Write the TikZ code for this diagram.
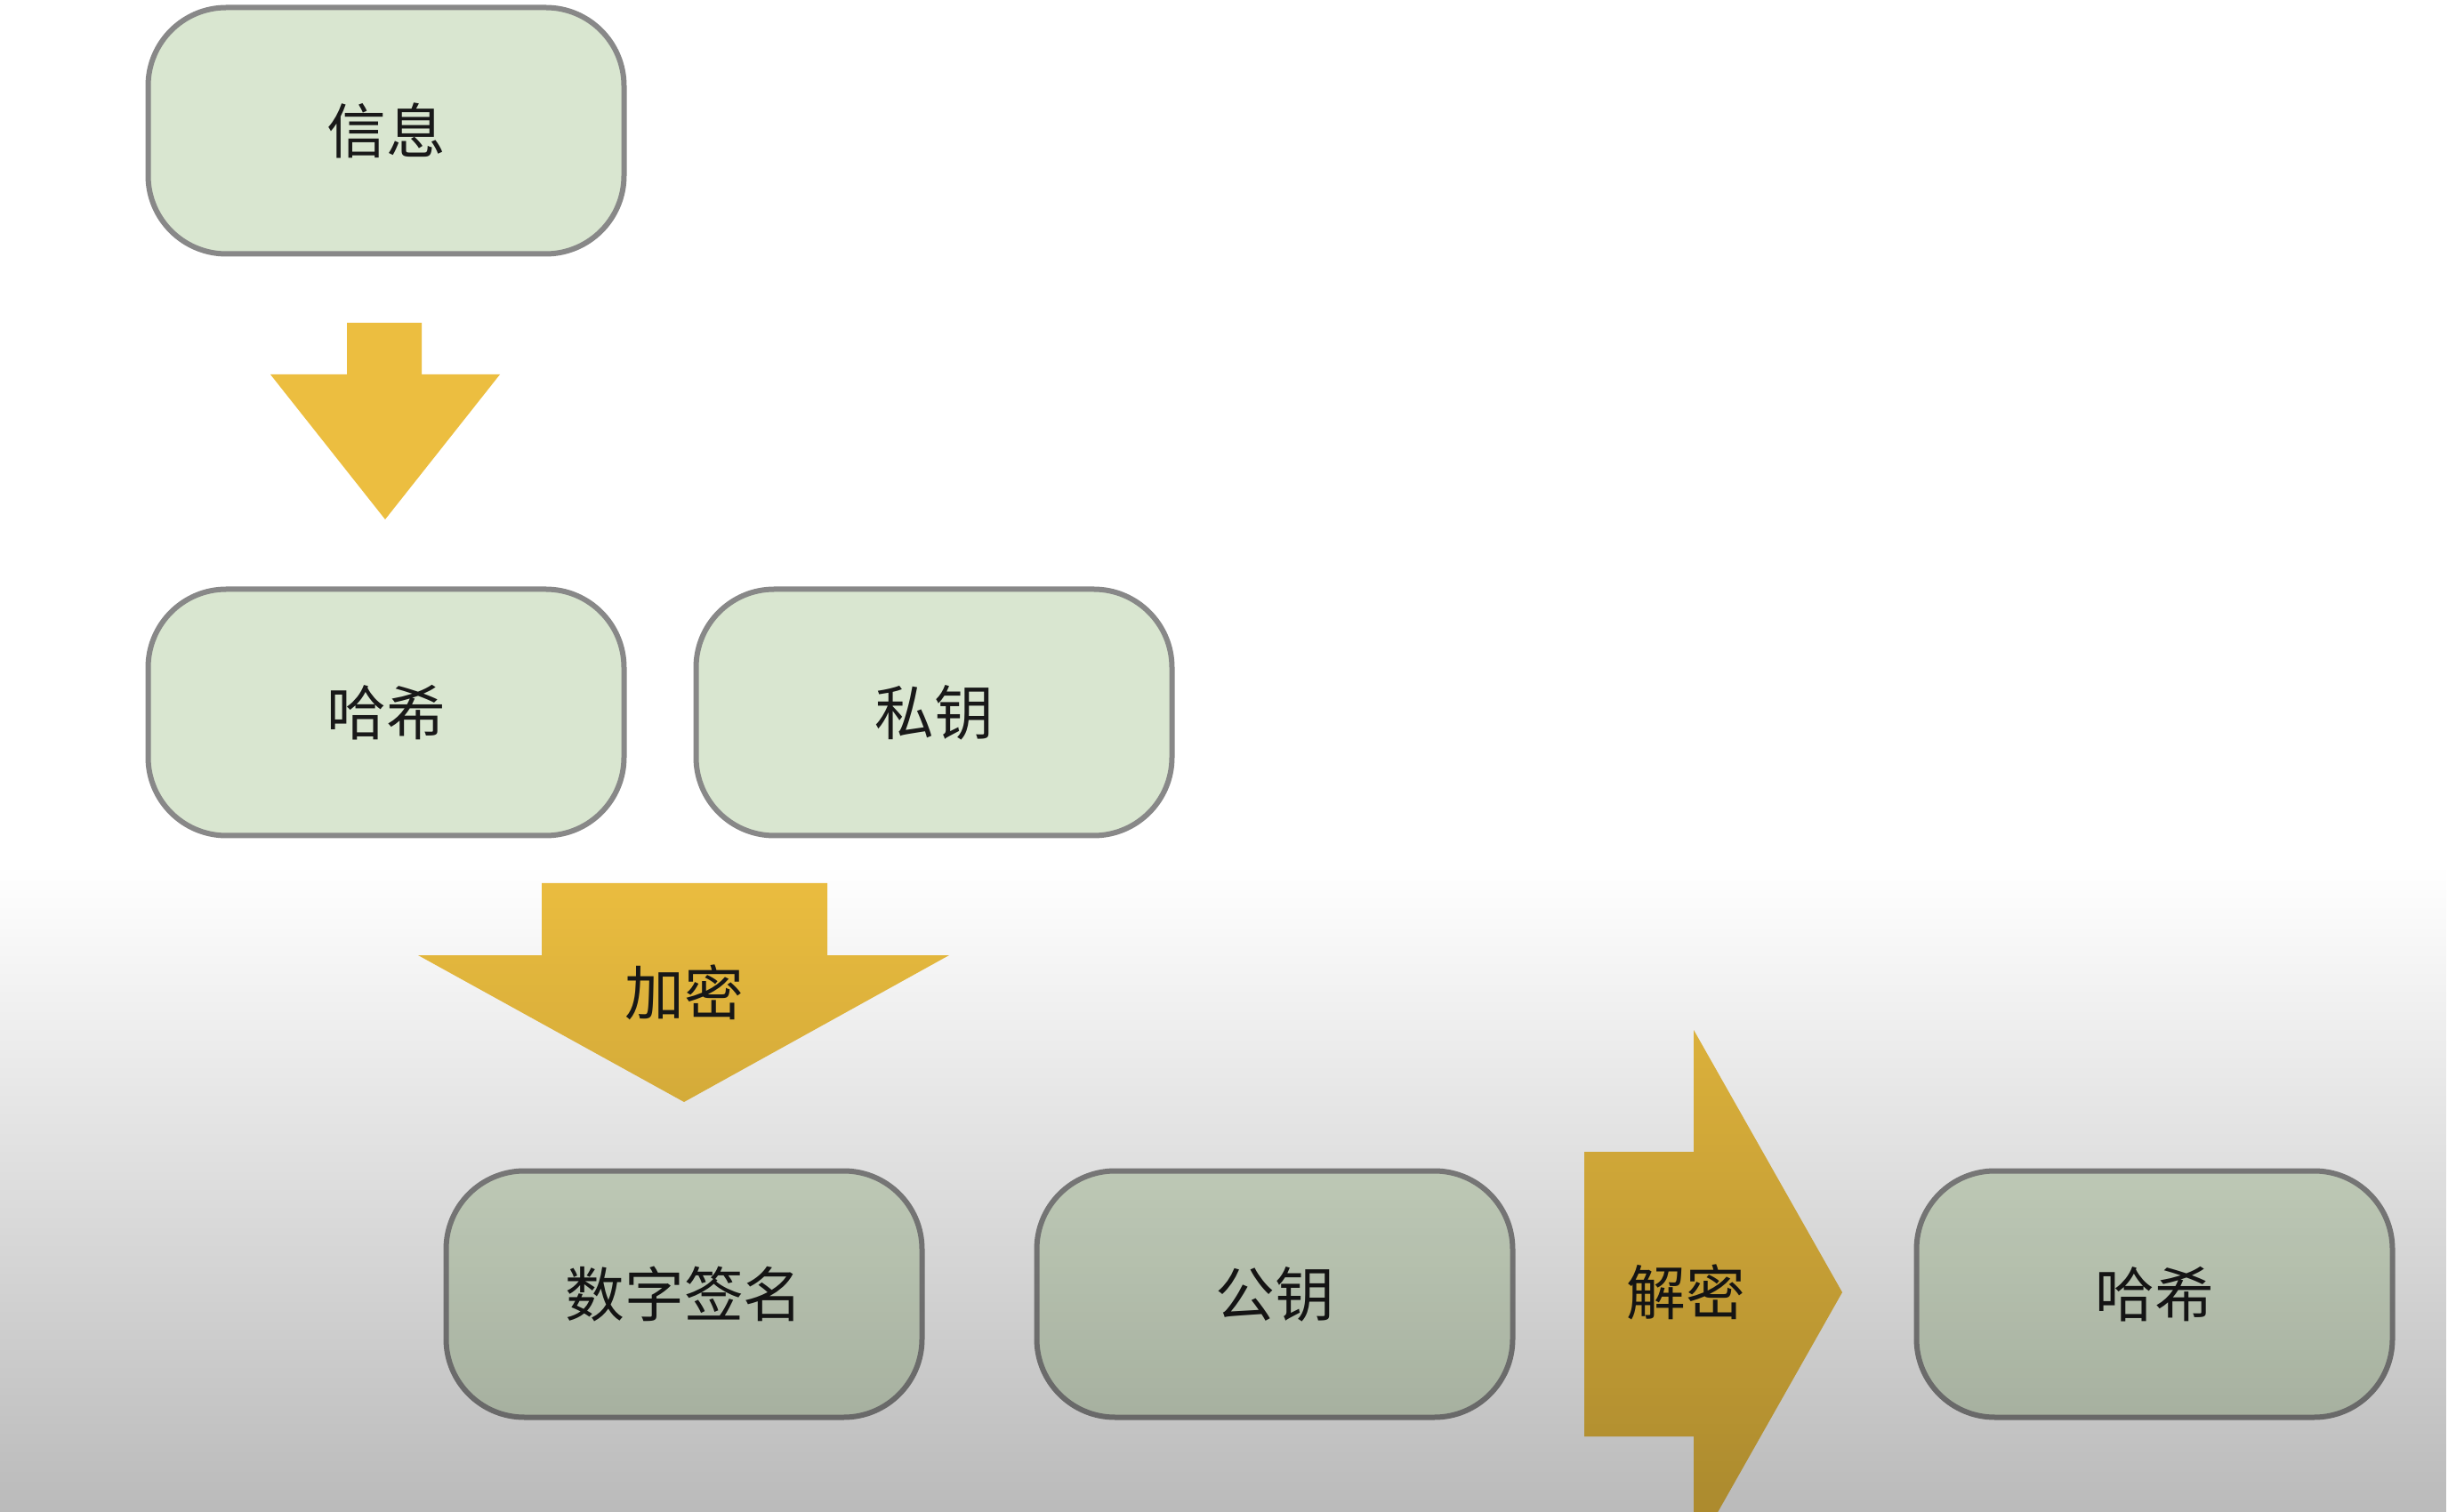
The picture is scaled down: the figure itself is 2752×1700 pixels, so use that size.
\documentclass[tikz,border=0pt]{standalone}
\usepackage{fontspec}
\setmainfont{Noto Sans CJK SC}
\usepackage{tikz}
\usetikzlibrary{positioning,fadings}

\definecolor{boxfill}{RGB}{217,230,208}
\definecolor{boxline}{RGB}{136,136,136}
\definecolor{arrowgold}{RGB}{236,190,64}

\tikzfading[name=fade down, top color=transparent!100, bottom color=transparent!0]

\tikzset{
  stage/.style={rectangle, rounded corners=8.8mm, draw=boxline, line width=0.6mm,
    fill=boxfill, minimum width=53.5mm, minimum height=27.7mm, outer sep=0pt,
    text=black!90, font=\fontsize{19}{23}\selectfont},
  blockarrow/.style={fill=arrowgold},
  arrowtext/.style={text=black!90, font=\fontsize{19}{23}\selectfont}
}

\begin{document}
\begin{tikzpicture}[x=0.1mm, y=-0.1mm]
            \useasboundingbox (0,0) rectangle (2752,1700);
            \fill [white] (0,0) rectangle (2752,1700);

            % signing side
            \node [stage] (info) at (434,147) {信息};
            \node [stage] (hashA) [below=37.7mm of info] {哈希};
            \node [stage] (priv) [right=8.1mm of hashA] {私钥};

            % verifying side
            \node [stage] (sig) at (769,1455) {数字签名};
            \node [stage] (pub) [right=12.9mm of sig] {公钥};
            \node [stage] (hashB) at (2422,1455) {哈希};

            % block arrows
            \fill [blockarrow] (390,363) -- (474,363) -- (474,421) -- (562,421)
                -- (433,584) -- (304,421) -- (390,421) -- cycle;
            \fill [blockarrow] (609,993) -- (930,993) -- (930,1074) -- (1067,1074)
                -- (769,1239) -- (470,1074) -- (609,1074) -- cycle;
            \fill [blockarrow] (1781,1295) -- (1904,1295) -- (1904,1158) -- (2071,1453)
                -- (1904,1748) -- (1904,1615) -- (1781,1615) -- cycle;

            \node [arrowtext] (enc) at (769,1116) {加密};
            \node [arrowtext] (dec) at (1895,1453) {解密};

            % shadow of the lower part
            \fill [black, opacity=0.27, path fading=fade down] (0,975) rectangle (2752,1700);
        \end{tikzpicture}
\end{document}
